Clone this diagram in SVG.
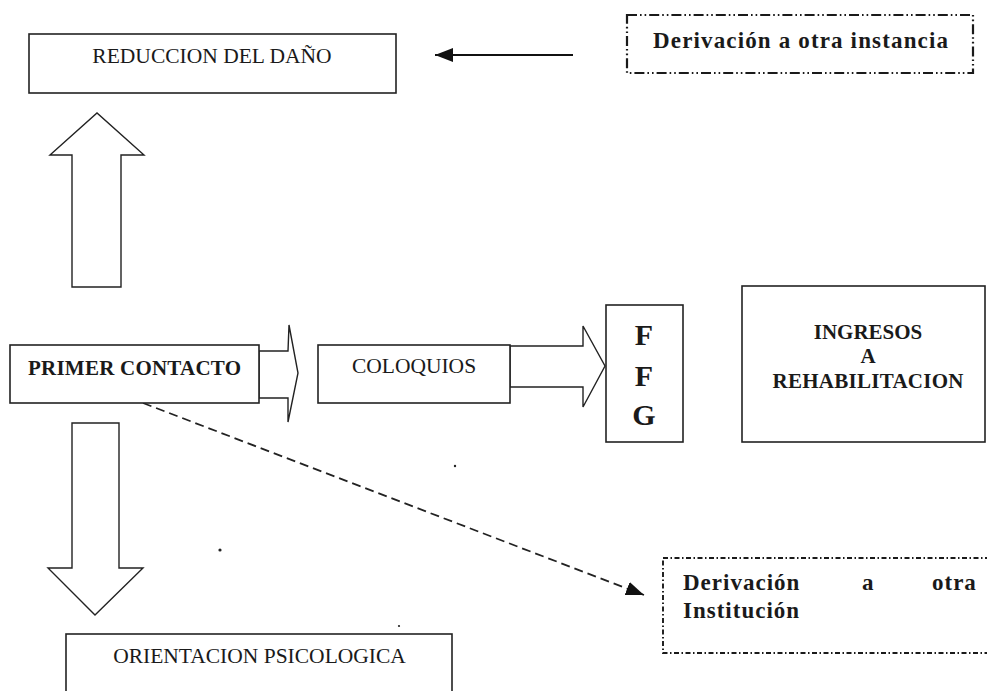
<svg xmlns="http://www.w3.org/2000/svg" width="987" height="691" viewBox="0 0 987 691">
<defs>
<style>
.box{fill:#fff;stroke:#222;stroke-width:1.6}
.blk{fill:#fff;stroke:#222;stroke-width:1.4;stroke-linejoin:miter}
.dd1{fill:none;stroke:#1a1a1a;stroke-width:2.2;stroke-dasharray:10 3 1.6 3 1.6 3}
.dd2{fill:none;stroke:#1a1a1a;stroke-width:1.9;stroke-dasharray:5 2.5 1.5 2.5}
.t{font-family:"Liberation Serif","Times New Roman",serif;fill:#1a1a1a}
.r{font-size:21.5px}
.b{font-weight:bold}
.c{text-anchor:middle}
</style>
<marker id="ah" markerUnits="userSpaceOnUse" markerWidth="20" markerHeight="16" refX="18" refY="7" orient="auto">
<path d="M0,0 L18,7 L0,14 z" fill="#111"/>
</marker>
</defs>
<rect width="987" height="691" fill="#fff"/>

<g id="connectors">
<polygon id="arrow-up" class="blk" points="72,287 72,155 50,155 97,113 144,155 121,155 121,287"/>
<polygon id="arrow-right-1" class="blk" points="259,351 288,351 289,325 298,373 288,422 288,398 259,398"/>
<polygon id="arrow-right-2" class="blk" points="510,346 583,346 583,326 605,366 583,407 583,387 510,387"/>
<polygon id="arrow-down" class="blk" points="72,423 119,423 119,568 143,568 95,615 48,568 72,568"/>
<line id="arrow-derivacion" x1="573" y1="55" x2="435" y2="55" stroke="#111" stroke-width="2" marker-end="url(#ah)"/>
<line id="arrow-institucion" x1="143" y1="403" x2="644" y2="595" stroke="#222" stroke-width="1.8" stroke-dasharray="9 5" marker-end="url(#ah)"/>
</g>

<g id="reduccion">
<rect class="box" x="29" y="34" width="367" height="59"/>
<text class="t r c" x="212" y="63">REDUCCION DEL DAÑO</text>
</g>

<g id="derivacion-instancia">
<rect class="dd1" x="627" y="15" width="346" height="58"/>
<text class="t b" x="653" y="48" font-size="23" textLength="295" lengthAdjust="spacing">Derivación a otra instancia</text>
</g>

<g id="primer-contacto">
<rect class="box" x="10" y="345" width="249" height="58"/>
<text class="t b" x="28" y="375" font-size="21" textLength="213" lengthAdjust="spacing">PRIMER CONTACTO</text>
</g>

<g id="coloquios">
<rect class="box" x="318" y="345" width="192" height="58"/>
<text class="t r c" x="414" y="373">COLOQUIOS</text>
</g>

<g id="ffg">
<rect class="box" x="606" y="305" width="77" height="137"/>
<text class="t b c" x="644" y="345" font-size="30">F</text>
<text class="t b c" x="644" y="386" font-size="30">F</text>
<text class="t b c" x="644" y="425" font-size="30">G</text>
</g>

<g id="ingresos">
<rect class="box" x="742" y="286" width="243" height="156"/>
<text class="t b c" x="868" y="339" font-size="21">INGRESOS</text>
<text class="t b c" x="868" y="363" font-size="21">A</text>
<text class="t b c" x="868" y="388" font-size="21" textLength="191" lengthAdjust="spacing">REHABILITACION</text>
</g>

<g id="orientacion">
<rect class="box" x="66" y="634" width="386" height="70"/>
<text class="t r c" x="259.5" y="663">ORIENTACION PSICOLOGICA</text>
</g>

<g id="derivacion-institucion">
<rect class="dd2" x="663" y="558" width="340" height="95"/>
<text class="t b" font-size="23" letter-spacing="1"><tspan x="683" y="590">Derivación</tspan><tspan x="862" y="590">a</tspan><tspan x="932" y="590">otra</tspan><tspan x="683" y="618">Institución</tspan></text>
</g>

<g id="specks" fill="#222">
<circle cx="220" cy="550" r="1.6"/>
<circle cx="399" cy="626" r="1.1"/>
<circle cx="455" cy="466" r="1.2"/>
</g>
</svg>
